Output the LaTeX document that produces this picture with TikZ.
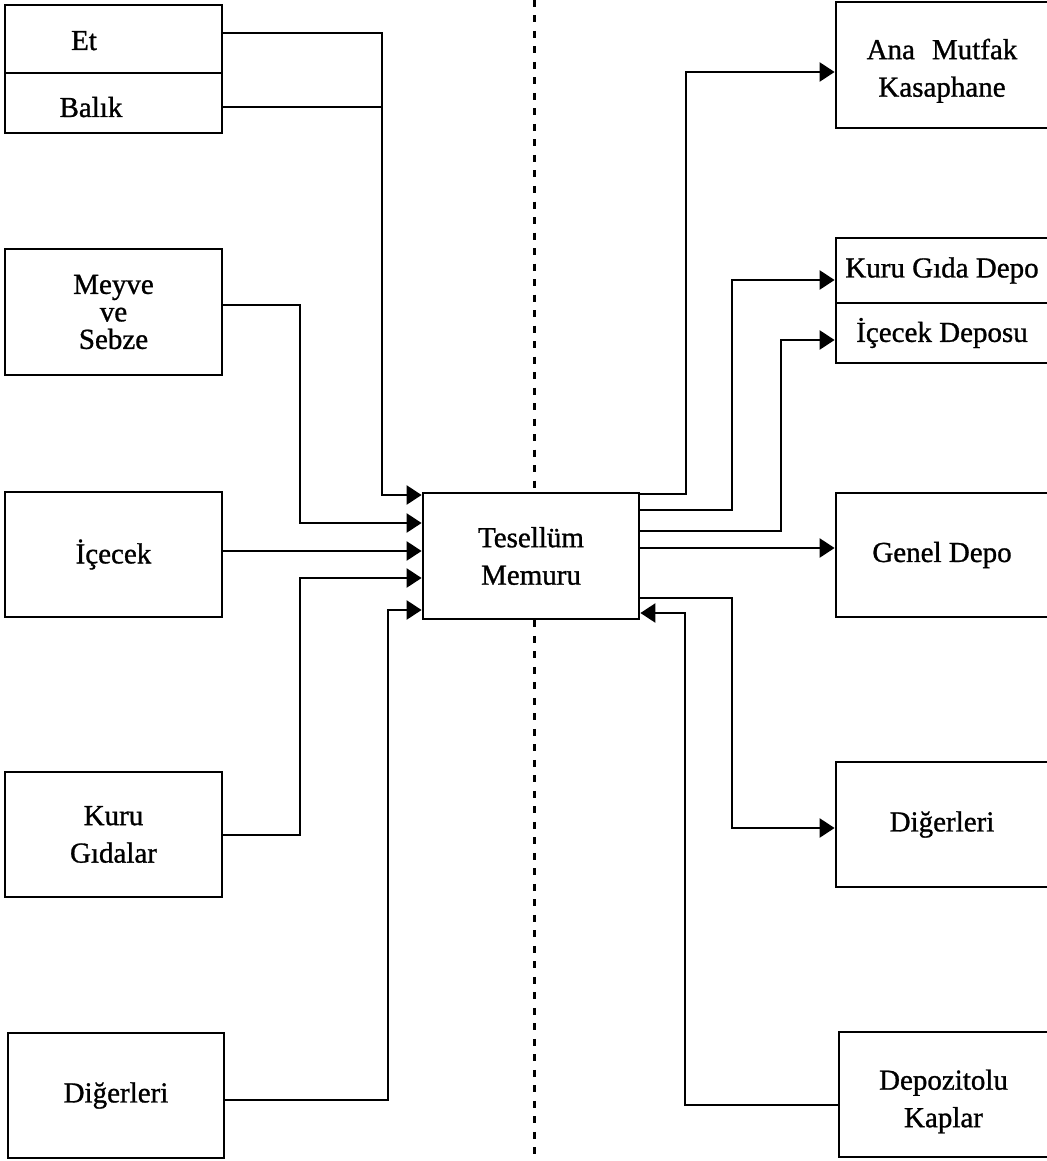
\documentclass[tikz,border=0pt]{standalone}
\usepackage{fontspec}
\setmainfont{Liberation Serif}[FakeBold=1]
\usetikzlibrary{arrows.meta}
\begin{document}
\begin{tikzpicture}[x=1pt,y=-1pt,
  box/.style={draw, line width=2.8pt, rectangle, inner sep=0pt, align=center,
    font=\fontsize{29}{37.5}\selectfont},
  conn/.style={line width=2.4pt},
  arr/.style={conn, -{Triangle[length=15pt,width=19pt]}},
  sep/.style={line width=3pt, dash pattern=on 7pt off 8.5pt},
  lbl/.style={font=\fontsize{29}{37.5}\selectfont, inner sep=0pt, anchor=base}]
\useasboundingbox (0,0) rectangle (1046,1161);
\fill[white] (0,0) rectangle (1046,1161);

% left column
\node[box, minimum width=217pt, minimum height=68pt] (et) at (113.5,39) {};
\node[box, minimum width=217pt, minimum height=60pt] (balik) at (113.5,103) {};
\node[lbl] (etT) at (84,50) {Et};
\node[lbl] (balikT) at (91,117) {Balık};
\node[box, minimum width=217pt, minimum height=126pt, font=\fontsize{29}{27.5}\selectfont] (meyve) at (113.5,312) {Meyve\\ve\\Sebze};
\node[box, minimum width=217pt, minimum height=125pt] (icecek) at (113.5,554.5) {İçecek};
\node[box, minimum width=217pt, minimum height=125pt] (kuru) at (113.5,834.5) {Kuru\\Gıdalar};
\node[box, minimum width=216pt, minimum height=125pt] (digerL) at (116,1095.5) {Diğerleri};

% centre
\node[box, minimum width=216pt, minimum height=126pt] (tes) at (531,556) {Tesellüm\\Memuru};

% right column
\node[box, minimum width=212pt, minimum height=126pt] (ana) at (942,65) {\rule{0pt}{32pt}Ana\hspace{17pt}Mutfak\\Kasaphane};
\node[box, minimum width=212pt, minimum height=65pt] (kgd) at (942,270.5) {Kuru Gıda Depo};
\node[box, minimum width=212pt, minimum height=60pt] (icd) at (942,333) {İçecek Deposu};
\node[box, minimum width=212pt, minimum height=124pt] (genel) at (942,555) {Genel Depo};
\node[box, minimum width=212pt, minimum height=125pt] (digerR) at (942,824.5) {Diğerleri};
\node[box, minimum width=209pt, minimum height=125pt] (depoz) at (943.5,1094.5) {\rule{0pt}{34pt}Depozitolu\\Kaplar};

% dashed separator
\coordinate (dtop) at (534,0);
\coordinate (dbot) at (534,1161);
\draw[sep] (dtop) -- (dtop |- tes.north);
\draw[sep] (dtop |- tes.south) -- (dbot);

% left connectors
\coordinate (jb) at (382,107);
\draw[arr] ([yshift=6pt]et.east) -| (382,495) -- ([yshift=61pt]tes.west);
\draw[conn] (balik.east |- jb) -- (jb);
\draw[arr] ([yshift=7pt]meyve.east) -| (300,523) -- ([yshift=33pt]tes.west);
\draw[arr] ([yshift=3.5pt]icecek.east) -- ([yshift=5pt]tes.west);
\draw[arr] ([yshift=-0.5pt]kuru.east) -| (300,578) -- ([yshift=-22pt]tes.west);
\draw[arr] ([yshift=-4.5pt]digerL.east) -| (388,610) -- ([yshift=-54pt]tes.west);

% right connectors
\draw[arr] ([yshift=62pt]tes.east) -| (686,72) -- ([yshift=-7pt]ana.west);
\draw[arr] ([yshift=46pt]tes.east) -| (732,280) -- ([yshift=-9.5pt]kgd.west);
\draw[arr] ([yshift=25pt]tes.east) -| (781,340) -- ([yshift=-7pt]icd.west);
\draw[arr] ([yshift=8pt]tes.east) -- ([yshift=7pt]genel.west);
\draw[arr] ([yshift=-42pt]tes.east) -| (732,828) -- ([yshift=-3.5pt]digerR.west);
\draw[arr] ([yshift=-10.5pt]depoz.west) -| (685,613) -- ([yshift=-57pt]tes.east);
\end{tikzpicture}
\end{document}
